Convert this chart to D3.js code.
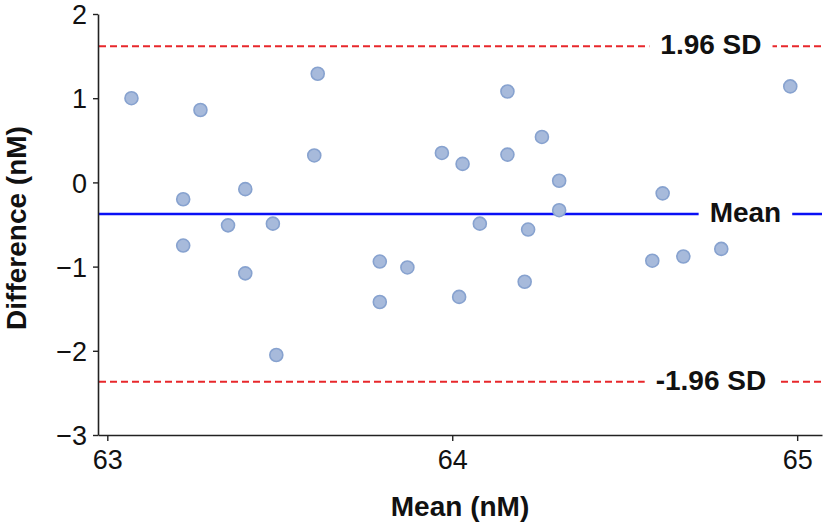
<!DOCTYPE html>
<html>
<head>
<meta charset="utf-8">
<script src="https://cdn.jsdelivr.net/npm/d3@7"></script>
<style>
  html, body { margin: 0; padding: 0; background: #fff; }
  svg { display: block; font-family: "Liberation Sans", Arial, Helvetica, sans-serif; }
</style>
</head>
<body>
<svg id="chart" width="826" height="528"></svg>
<script>
// ---- data ----
const meanValues = [63.07, 63.27, 63.22, 63.22, 63.35, 63.40, 63.40, 63.48, 63.49, 63.61,
                    63.60, 63.79, 63.87, 63.79, 63.97, 64.03, 64.02, 64.08, 64.16, 64.16,
                    64.22, 64.21, 64.26, 64.31, 64.31, 64.58, 64.61, 64.67, 64.78, 64.98];
const diffValues = [1.00, 0.86, -0.20, -0.75, -0.51, -0.08, -1.08, -0.49, -2.05, 1.29,
                    0.32, -0.94, -1.01, -1.42, 0.35, 0.22, -1.36, -0.49, 1.08, 0.33,
                    -0.56, -1.18, 0.54, 0.02, -0.33, -0.93, -0.13, -0.88, -0.79, 1.14];
const meanDiff = -0.375;
const upperLoA = 1.616;
const lowerLoA = -2.367;
const xTicks = [63, 64, 65];
const yTicks = [-3, -2, -1, 0, 1, 2];
const refLabels = ["1.96 SD", "Mean", "-1.96 SD"];
const refValues = [upperLoA, meanDiff, lowerLoA];
const refLabelX = [64.75, 64.85, 64.75];
const xTitle = "Mean (nM)";
const yTitle = "Difference (nM)";

// ---- layout ----
const svg = d3.select("#chart");
const margin = {left: 98, top: 14, right: 4, bottom: 93};
const W = 826, H = 528;
const x = d3.scaleLinear().domain([62.973, 65.072]).range([margin.left, W - margin.right]);
const y = d3.scaleLinear().domain([-3, 2]).range([H - margin.bottom, margin.top]);

// reference lines
const refStyles = [
  {color: "#e8272b", dash: "7,4", width: 2},
  {color: "#0a10f5", dash: null, width: 2.5},
  {color: "#e8272b", dash: "7,4", width: 2}
];
refValues.forEach((v, i) => {
  const s = refStyles[i];
  const ln = svg.append("line")
    .attr("x1", x.range()[0] + 1).attr("x2", x.range()[1])
    .attr("y1", y(v)).attr("y2", y(v))
    .attr("stroke", s.color).attr("stroke-width", s.width);
  if (s.dash) ln.attr("stroke-dasharray", s.dash);
});

// points
svg.append("g").selectAll("circle")
  .data(meanValues.map((m, i) => [m, diffValues[i]]))
  .join("circle")
  .attr("cx", d => x(d[0]))
  .attr("cy", d => y(d[1]))
  .attr("r", 6.5)
  .attr("fill", "#a7badb")
  .attr("stroke", "#87a2cf")
  .attr("stroke-width", 1.6);

// reference labels with white gap
refValues.forEach((v, i) => {
  const g = svg.append("g");
  const bg = g.append("rect").attr("fill", "#fff");
  const t = g.append("text")
    .attr("x", x(refLabelX[i]))
    .attr("y", y(v) + 8)
    .attr("text-anchor", "middle")
    .attr("font-size", 28)
    .attr("font-weight", "bold")
    .attr("fill", "#111")
    .text(refLabels[i]);
  const bb = t.node().getBBox();
  bg.attr("x", bb.x - 11).attr("width", bb.width + 22)
    .attr("y", y(v) - 3).attr("height", 6);
});

// axes
const xAxis = d3.axisBottom(x).tickValues(xTicks).tickSize(6).tickSizeOuter(0).tickFormat(d3.format("d"));
const yAxis = d3.axisLeft(y).tickValues(yTicks).tickSize(5).tickSizeOuter(0).tickFormat(d3.format("d"));

const gx = svg.append("g").attr("transform", `translate(0,${y(-3)})`).call(xAxis);
const gy = svg.append("g").attr("transform", `translate(${margin.left},0)`).call(yAxis);
[gx, gy].forEach(g => {
  g.select(".domain").attr("stroke", "#222").attr("stroke-width", 1.6);
  g.selectAll(".tick line").attr("stroke", "#222").attr("stroke-width", 1.4);
  g.selectAll(".tick text").attr("font-size", 27).attr("fill", "#111")
    .attr("font-family", "Liberation Sans, Arial, sans-serif");
});
gx.selectAll(".tick text").attr("dy", "0.71em").attr("y", 15);
gy.selectAll(".tick text").attr("x", -11).attr("dy", "0.36em");

// axis titles
svg.append("text")
  .attr("x", (x.range()[0] + x.range()[1]) / 2)
  .attr("y", 516)
  .attr("text-anchor", "middle")
  .attr("font-size", 28)
  .attr("font-weight", "bold")
  .attr("fill", "#111")
  .text(xTitle);

svg.append("text")
  .attr("transform", `translate(26,228) rotate(-90)`)
  .attr("text-anchor", "middle")
  .attr("font-size", 28)
  .attr("font-weight", "bold")
  .attr("fill", "#111")
  .text(yTitle);
</script>
</body>
</html>
